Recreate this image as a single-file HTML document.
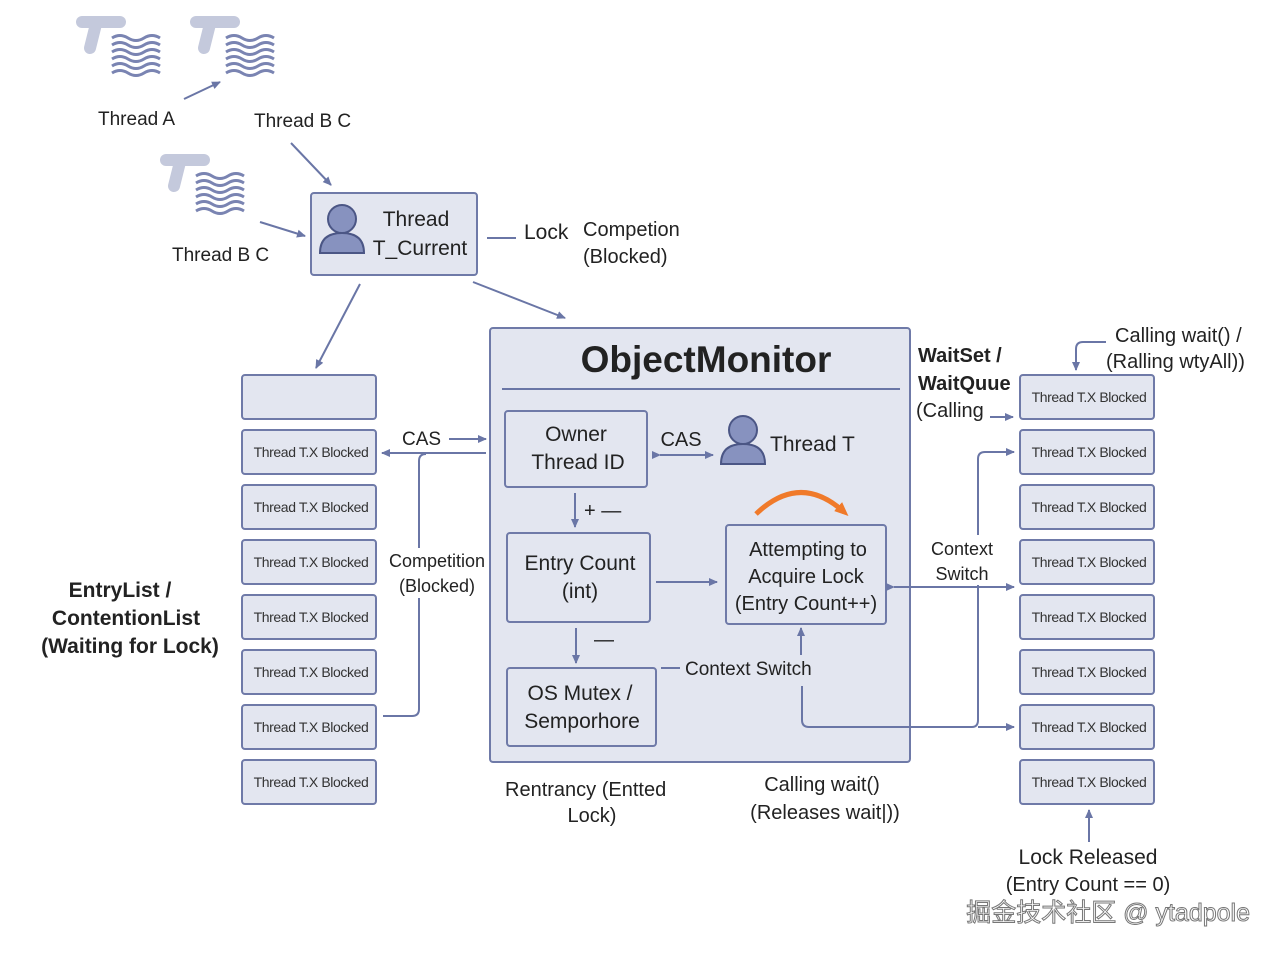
<!DOCTYPE html>
<html><head><meta charset="utf-8"><style>
html,body{margin:0;padding:0;background:#fff;}
svg{display:block;font-family:"Liberation Sans","Noto Sans CJK SC",sans-serif;}
.b{fill:#e3e6f0;stroke:#6f7aa8;stroke-width:2;}
.l{stroke:#6a76a6;stroke-width:2;fill:none;}
.t{fill:#222;}
.s{font-size:14px;fill:#333;letter-spacing:-0.4px;}
</style></head><body>
<svg width="1276" height="954" viewBox="0 0 1276 954" xmlns="http://www.w3.org/2000/svg">
<defs>
<marker id="a" markerWidth="10" markerHeight="10" refX="8" refY="5" orient="auto" markerUnits="userSpaceOnUse"><path d="M0,1 L9,5 L0,9 z" fill="#6a76a6"/></marker>
<marker id="ao" markerWidth="16" markerHeight="16" refX="8" refY="8" orient="auto" markerUnits="userSpaceOnUse"><path d="M0,2 L14,8 L0,14 z" fill="#f07a2a"/></marker>
<g id="th">
<path d="M2,2 L40,2" stroke="#c4c9dc" stroke-width="12" stroke-linecap="round"/>
<path d="M16,4 L10,28" stroke="#c4c9dc" stroke-width="12" stroke-linecap="round"/>
<g stroke="#7a84b2" stroke-width="3" fill="none">
<path d="M32,18 q8,-5 16,0 t16,0 t16,0"/>
<path d="M32,25 q8,-5 16,0 t16,0 t16,0"/>
<path d="M32,32 q8,-5 16,0 t16,0 t16,0"/>
<path d="M32,39 q8,-5 16,0 t16,0 t16,0"/>
<path d="M32,46 q8,-5 16,0 t16,0 t16,0"/>
<path d="M32,53 q8,-5 16,0 t16,0 t16,0"/>
</g>
</g>
<g id="p"><circle cx="0" cy="0" r="14" fill="#8792bf" stroke="#4b5685" stroke-width="2"/><path d="M-22,34 Q-22,14 0,14 Q22,14 22,34 Z" fill="#8792bf" stroke="#4b5685" stroke-width="2"/></g>
</defs>

<use href="#th" x="80" y="20"/>
<use href="#th" x="194" y="20"/>
<use href="#th" x="164" y="158"/>
<text x="98" y="125" font-size="19" class="t">Thread A</text>
<text x="254" y="127" font-size="19" class="t">Thread B C</text>
<text x="172" y="261" font-size="19" class="t">Thread B C</text>
<line x1="184" y1="99" x2="220" y2="82" class="l" marker-end="url(#a)"/>
<line x1="291" y1="143" x2="331" y2="185" class="l" marker-end="url(#a)"/>
<line x1="260" y1="222" x2="305" y2="236" class="l" marker-end="url(#a)"/>

<rect x="311" y="193" width="166" height="82" class="b" rx="3"/>
<use href="#p" x="342" y="219"/>
<text x="416" y="226" font-size="21" text-anchor="middle" class="t">Thread</text>
<text x="420" y="255" font-size="21" text-anchor="middle" class="t">T_Current</text>
<line x1="487" y1="238" x2="516" y2="238" class="l"/>
<text x="524" y="239" font-size="21" class="t">Lock</text>
<text x="583" y="236" font-size="20" class="t">Competion</text>
<text x="583" y="263" font-size="20" class="t">(Blocked)</text>
<line x1="360" y1="284" x2="316" y2="368" class="l" marker-end="url(#a)"/>
<line x1="473" y1="282" x2="565" y2="318" class="l" marker-end="url(#a)"/>

<rect x="490" y="328" width="420" height="434" class="b" rx="3"/>
<text x="706" y="372" font-size="37" font-weight="bold" text-anchor="middle" class="t">ObjectMonitor</text>
<line x1="502" y1="389" x2="900" y2="389" class="l"/>

<rect x="505" y="411" width="142" height="76" class="b" rx="3"/>
<text x="576" y="441" font-size="21" text-anchor="middle" class="t">Owner</text>
<text x="578" y="469" font-size="21" text-anchor="middle" class="t">Thread ID</text>
<text x="681" y="446" font-size="20" text-anchor="middle" class="t">CAS</text>
<line x1="660" y1="455" x2="713" y2="455" class="l" marker-end="url(#a)" marker-start="url(#a)"/>
<use href="#p" x="743" y="430"/>
<text x="770" y="451" font-size="21" class="t">Thread T</text>

<line x1="575" y1="493" x2="575" y2="527" class="l" marker-end="url(#a)"/>
<text x="584" y="517" font-size="20" class="t">+ —</text>
<rect x="507" y="533" width="143" height="89" class="b" rx="3"/>
<text x="580" y="570" font-size="21" text-anchor="middle" class="t">Entry Count</text>
<text x="580" y="598" font-size="21" text-anchor="middle" class="t">(int)</text>
<line x1="656" y1="582" x2="717" y2="582" class="l" marker-end="url(#a)"/>

<path d="M756,514 Q800,472 844,512" stroke="#f07a2a" stroke-width="5" fill="none" marker-end="url(#ao)"/>
<rect x="726" y="525" width="160" height="99" class="b" rx="3"/>
<text x="808" y="556" font-size="20" text-anchor="middle" class="t">Attempting to</text>
<text x="806" y="583" font-size="20" text-anchor="middle" class="t">Acquire Lock</text>
<text x="806" y="610" font-size="20" text-anchor="middle" class="t">(Entry Count++)</text>

<line x1="576" y1="628" x2="576" y2="663" class="l" marker-end="url(#a)"/>
<text x="594" y="646" font-size="20" class="t">—</text>
<rect x="507" y="668" width="149" height="78" class="b" rx="3"/>
<text x="580" y="700" font-size="21" text-anchor="middle" class="t">OS Mutex /</text>
<text x="582" y="728" font-size="21" text-anchor="middle" class="t">Semporhore</text>
<line x1="661" y1="668" x2="680" y2="668" class="l"/>
<text x="685" y="675" font-size="19" class="t">Context Switch</text>
<line x1="801" y1="655" x2="801" y2="628" class="l" marker-end="url(#a)"/>
<path d="M802,686 L802,720 Q802,727 809,727 L972,727 Q978,727 978,720 L978,459 Q978,452 985,452 L1014,452" class="l" marker-end="url(#a)"/>
<line x1="978" y1="727" x2="1014" y2="727" class="l" marker-end="url(#a)"/>
<line x1="894" y1="587" x2="1014" y2="587" class="l" marker-end="url(#a)" marker-start="url(#a)"/>
<rect x="928" y="535" width="70" height="50" fill="#fff"/>
<text x="962" y="555" font-size="18" text-anchor="middle" class="t">Context</text>
<text x="962" y="580" font-size="18" text-anchor="middle" class="t">Switch</text>

<text x="505" y="796" font-size="20" class="t">Rentrancy (Entted</text>
<text x="592" y="822" font-size="20" text-anchor="middle" class="t">Lock)</text>
<text x="822" y="791" font-size="20" text-anchor="middle" class="t">Calling wait()</text>
<text x="825" y="819" font-size="20" text-anchor="middle" class="t">(Releases wait|))</text>

<rect x="242" y="375" width="134" height="44" class="b" rx="3"/>
<g>
<rect x="242" y="430" width="134" height="44" class="b" rx="3"/><text x="311" y="457" text-anchor="middle" class="s">Thread T.X Blocked</text>
<rect x="242" y="485" width="134" height="44" class="b" rx="3"/><text x="311" y="512" text-anchor="middle" class="s">Thread T.X Blocked</text>
<rect x="242" y="540" width="134" height="44" class="b" rx="3"/><text x="311" y="567" text-anchor="middle" class="s">Thread T.X Blocked</text>
<rect x="242" y="595" width="134" height="44" class="b" rx="3"/><text x="311" y="622" text-anchor="middle" class="s">Thread T.X Blocked</text>
<rect x="242" y="650" width="134" height="44" class="b" rx="3"/><text x="311" y="677" text-anchor="middle" class="s">Thread T.X Blocked</text>
<rect x="242" y="705" width="134" height="44" class="b" rx="3"/><text x="311" y="732" text-anchor="middle" class="s">Thread T.X Blocked</text>
<rect x="242" y="760" width="134" height="44" class="b" rx="3"/><text x="311" y="787" text-anchor="middle" class="s">Thread T.X Blocked</text>
</g>
<text x="402" y="445" font-size="19" class="t">CAS</text>
<line x1="449" y1="439" x2="486" y2="439" class="l" marker-end="url(#a)"/>
<line x1="486" y1="453" x2="382" y2="453" class="l" marker-end="url(#a)"/>
<path d="M383,716 L412,716 Q419,716 419,709 L419,461 Q419,454 426,454" class="l"/>
<rect x="388" y="548" width="98" height="50" fill="#fff"/>
<text x="437" y="567" font-size="18" text-anchor="middle" class="t">Competition</text>
<text x="437" y="592" font-size="18" text-anchor="middle" class="t">(Blocked)</text>

<text x="120" y="597" font-size="21" font-weight="bold" text-anchor="middle" class="t">EntryList /</text>
<text x="126" y="625" font-size="21" font-weight="bold" text-anchor="middle" class="t">ContentionList</text>
<text x="130" y="653" font-size="21" font-weight="bold" text-anchor="middle" class="t">(Waiting for Lock)</text>

<g>
<rect x="1020" y="375" width="134" height="44" class="b" rx="3"/><text x="1089" y="402" text-anchor="middle" class="s">Thread T.X Blocked</text>
<rect x="1020" y="430" width="134" height="44" class="b" rx="3"/><text x="1089" y="457" text-anchor="middle" class="s">Thread T.X Blocked</text>
<rect x="1020" y="485" width="134" height="44" class="b" rx="3"/><text x="1089" y="512" text-anchor="middle" class="s">Thread T.X Blocked</text>
<rect x="1020" y="540" width="134" height="44" class="b" rx="3"/><text x="1089" y="567" text-anchor="middle" class="s">Thread T.X Blocked</text>
<rect x="1020" y="595" width="134" height="44" class="b" rx="3"/><text x="1089" y="622" text-anchor="middle" class="s">Thread T.X Blocked</text>
<rect x="1020" y="650" width="134" height="44" class="b" rx="3"/><text x="1089" y="677" text-anchor="middle" class="s">Thread T.X Blocked</text>
<rect x="1020" y="705" width="134" height="44" class="b" rx="3"/><text x="1089" y="732" text-anchor="middle" class="s">Thread T.X Blocked</text>
<rect x="1020" y="760" width="134" height="44" class="b" rx="3"/><text x="1089" y="787" text-anchor="middle" class="s">Thread T.X Blocked</text>
</g>
<text x="918" y="362" font-size="20" font-weight="bold" class="t">WaitSet /</text>
<text x="918" y="390" font-size="20" font-weight="bold" class="t">WaitQuue</text>
<text x="916" y="417" font-size="20" class="t">(Calling</text>
<line x1="990" y1="417" x2="1013" y2="417" class="l" marker-end="url(#a)"/>
<path d="M1106,342 L1083,342 Q1076,342 1076,349 L1076,370" class="l" marker-end="url(#a)"/>
<text x="1115" y="342" font-size="20" class="t">Calling wait() /</text>
<text x="1106" y="368" font-size="20" class="t">(Ralling wtyAll))</text>

<line x1="1089" y1="842" x2="1089" y2="810" class="l" marker-end="url(#a)"/>
<text x="1088" y="864" font-size="21" text-anchor="middle" class="t">Lock Released</text>
<text x="1088" y="891" font-size="20" text-anchor="middle" class="t">(Entry Count == 0)</text>
<text x="1250" y="921" font-size="25" text-anchor="end" fill="#fff" stroke="#777" stroke-width="1">掘金技术社区 @ ytadpole</text>
</svg>
</body></html>
